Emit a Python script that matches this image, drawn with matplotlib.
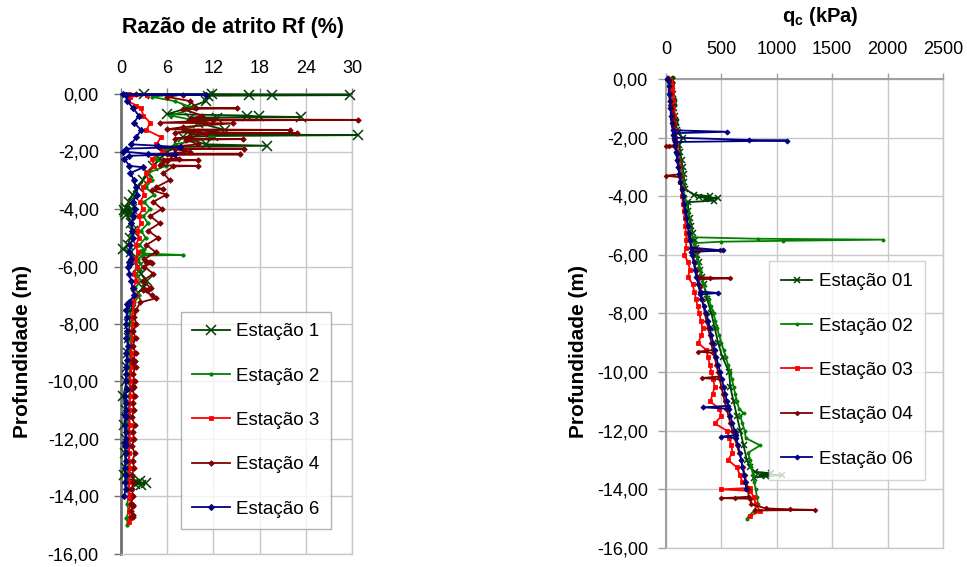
import matplotlib
matplotlib.use("Agg")
import matplotlib.pyplot as plt
from matplotlib.ticker import FuncFormatter

plt.rcParams['font.family'] = ['Liberation Sans', 'DejaVu Sans']
plt.rcParams['mathtext.fontset'] = 'custom'
plt.rcParams['mathtext.rm'] = 'Liberation Sans'
plt.rcParams['mathtext.bf'] = 'Liberation Sans:bold'

# ---------------- data ----------------
labels_rf = ["Estação 1", "Estação 2", "Estação 3", "Estação 4", "Estação 6"]
labels_qc = ["Estação 01", "Estação 02", "Estação 03", "Estação 04", "Estação 06"]

rf_ticks = [0, 6, 12, 18, 24, 30]
qc_ticks = [0, 500, 1000, 1500, 2000, 2500]
depth_ticks = [0, -2, -4, -6, -8, -10, -12, -14, -16]

# Estação 1
d1 = [0.00, -0.01, -0.02, -0.03, -0.04, -0.06, -0.25, -0.50, -0.70, -0.75, -0.78, -0.80, -0.82, -0.85,
      -1.00, -1.25, -1.40, -1.43, -1.46, -1.50, -1.75, -1.80, -1.83, -2.00, -2.25, -2.50, -2.75, -3.00,
      -3.25, -3.50, -3.75, -3.95, -4.00, -4.03, -4.06, -4.10, -4.15, -4.20, -4.50, -4.75, -5.00, -5.25,
      -5.40, -5.50, -5.75, -6.00, -6.25, -6.50, -6.75, -7.00, -7.50, -8.00, -8.50, -9.00, -9.50, -10.00,
      -10.50, -11.00, -11.50, -12.00, -12.50, -13.00, -13.25, -13.40, -13.45, -13.50, -13.52, -13.55, -13.60]
rf1 = [3.0, 11.8, 16.6, 19.6, 29.7, 11.3, 11.0, 8.5, 6.0, 16.3, 17.9, 23.4, 9.0, 12.5,
       10.0, 13.5, 9.0, 30.8, 12.0, 8.0, 11.0, 18.9, 7.5, 6.0, 5.0, 4.2, 3.5, 2.8,
       2.2, 1.5, 1.0, 0.6, 1.4, 0.4, 1.2, 0.5, 1.5, 0.7, 1.3, 1.6, 1.2, 0.9,
       0.3, 1.3, 1.8, 2.2, 2.6, 3.4, 2.8, 1.9, 1.3, 1.1, 1.0, 0.9, 0.8, 0.7,
       0.3, 0.6, 0.4, 0.6, 0.5, 0.6, 0.4, 0.8, 2.5, 1.2, 3.2, 1.8, 2.6]
qc1 = [40, 45, 50, 50, 55, 50, 55, 60, 60, 65, 65, 70, 70, 70,
       75, 80, 85, 85, 90, 90, 100, 110, 105, 150, 120, 130, 140, 150,
       160, 165, 175, 250, 400, 300, 470, 350, 430, 200, 200, 215, 230, 240,
       210, 260, 270, 280, 295, 310, 325, 340, 370, 410, 440, 470, 510, 570,
       580, 610, 640, 670, 700, 730, 760, 800, 950, 850, 1045, 900, 790]

# Estação 2
d2 = [0.00, -0.02, -0.10, -0.25, -0.50, -0.75, -1.00, -1.25, -1.50, -1.75, -2.00, -2.25, -2.50, -2.75,
      -3.00, -3.25, -3.50, -3.75, -4.00, -4.25, -4.50, -4.75, -5.00, -5.25, -5.40, -5.45, -5.48, -5.52,
      -5.55, -5.60, -5.62, -5.75, -6.00, -6.25, -6.50, -6.75, -7.00, -7.25, -7.50, -7.75, -8.00, -8.25,
      -8.50, -8.75, -9.00, -9.25, -9.50, -9.75, -10.00, -10.25, -10.50, -10.75, -11.00, -11.25, -11.40,
      -11.50, -11.75, -12.00, -12.25, -12.50, -12.75, -13.00, -13.25, -13.50, -13.75, -14.00, -14.25,
      -14.50, -14.75, -14.90, -15.00]
rf2 = [0.5, 6.5, 4.0, 7.0, 9.5, 6.5, 11.0, 8.0, 12.0, 7.0, 5.5, 4.5, 5.8, 3.5,
       4.0, 3.2, 4.3, 3.0, 3.8, 2.9, 3.5, 2.6, 3.2, 2.4, 3.0, 2.5, 2.8, 2.4,
       3.0, 8.0, 2.7, 2.2, 2.8, 2.0, 2.6, 1.8, 2.4, 1.7, 0.5, 1.6, 1.3, 1.5,
       1.1, 1.4, 1.0, 1.3, 1.0, 1.2, 0.9, 1.3, 1.0, 1.2, 0.9, 1.1, 0.8,
       1.2, 0.9, 1.1, 0.8, 1.2, 0.9, 1.0, 0.8, 1.1, 0.9, 1.0, 0.8,
       1.0, 0.7, 0.9, 0.8]
qc2 = [20, 30, 35, 40, 45, 50, 55, 60, 70, 80, 90, 100, 110, 120,
       130, 140, 150, 160, 170, 185, 195, 205, 220, 230, 240, 830, 1960, 1055,
       500, 250, 255, 260, 270, 290, 305, 320, 340, 360, 385, 405, 430, 445,
       460, 480, 500, 520, 540, 560, 580, 595, 610, 625, 640, 660, 700,
       670, 690, 710, 720, 850, 740, 760, 770, 785, 795, 810, 820,
       830, 790, 750, 730]

# Estação 3
d3 = [0.00, -0.02, -0.10, -0.25, -0.40, -0.50, -0.75, -1.00, -1.25, -1.50, -1.75, -2.00, -2.25, -2.50,
      -2.75, -3.00, -3.25, -3.50, -3.75, -4.00, -4.25, -4.50, -4.75, -5.00, -5.25, -5.50, -5.75, -6.00,
      -6.25, -6.50, -6.75, -7.00, -7.25, -7.50, -7.75, -8.00, -8.25, -8.50, -8.75, -9.00, -9.25, -9.50,
      -9.75, -10.00, -10.25, -10.50, -10.75, -11.00, -11.25, -11.50, -11.75, -12.00, -12.25, -12.50,
      -12.75, -13.00, -13.25, -13.50, -13.75, -13.95, -14.00, -14.05, -14.25, -14.50, -14.75, -14.90]
rf3 = [1.0, 3.4, 1.2, 0.9, 2.0, 2.6, 2.9, 3.8, 3.3, 5.2, 4.6, 5.5, 4.0, 4.3,
       3.2, 3.6, 2.8, 3.0, 2.5, 2.8, 2.3, 2.6, 2.1, 2.4, 1.9, 2.2, 1.8, 2.1,
       1.7, 2.0, 1.6, 1.9, 1.5, 1.7, 1.4, 1.6, 1.3, 1.5, 1.2, 1.4, 1.2, 1.4,
       1.1, 1.3, 1.1, 1.3, 1.0, 1.2, 1.0, 1.2, 1.0, 1.2, 0.9, 1.1,
       1.0, 1.2, 0.9, 1.1, 1.0, 1.2, 1.4, 1.1, 1.3, 1.0, 1.2, 1.1]
qc3 = [20, 40, 45, 50, 55, 55, 60, 65, 70, 75, 80, 85, 90, 100,
       110, 115, 125, 130, 140, 145, 155, 160, 170, 175, 180, 185, 180, 165,
       200, 215, 200, 240, 255, 270, 285, 300, 315, 330, 320, 290, 365, 380,
       395, 410, 425, 440, 420, 400, 480, 500, 440, 550, 570, 590,
       600, 560, 640, 665, 690, 757, 500, 760, 790, 810, 850, 760]

# Estação 4
d4 = [0.00, -0.02, -0.10, -0.25, -0.48, -0.50, -0.52, -0.75, -0.88, -0.90,
      -0.92, -1.00, -1.02, -1.15, -1.23, -1.25, -1.27, -1.34, -1.36, -1.38,
      -1.50, -1.55, -1.57, -1.59, -1.75, -1.88, -1.90, -1.92, -2.00, -2.08,
      -2.10, -2.12, -2.25, -2.28, -2.30, -2.32, -2.48, -2.50, -2.52, -2.75,
      -3.00, -3.25, -3.30, -3.35, -3.50, -3.75, -4.00, -4.25, -4.50, -4.75,
      -5.00, -5.25, -5.50, -5.75, -5.83, -5.85, -5.88, -6.00, -6.25, -6.50,
      -6.75, -6.78, -6.80, -6.83, -7.00, -7.10, -7.25, -7.50, -7.75, -8.00,
      -8.25, -8.50, -8.75, -9.00, -9.25, -9.30, -9.35, -9.50, -9.75, -10.00,
      -10.15, -10.20, -10.25, -10.50, -10.75, -11.00, -11.25, -11.50, -11.75, -12.00,
      -12.25, -12.50, -12.75, -13.00, -13.25, -13.50, -13.75, -14.00, -14.25, -14.28,
      -14.30, -14.32, -14.50, -14.65, -14.68, -14.70, -14.72]
rf4 = [2.0, 8.0, 6.0, 9.0, 9.8, 15.0, 8.0, 10.5, 9.0, 30.8,
       12.0, 5.0, 14.5, 8.0, 6.0, 22.0, 10.0, 7.0, 22.8, 11.0,
       9.0, 7.0, 15.8, 8.5, 10.0, 5.0, 16.0, 7.0, 9.0, 6.0,
       15.4, 6.5, 7.5, 5.5, 10.0, 6.0, 5.0, 10.0, 6.8, 5.5,
       6.3, 4.5, 5.5, 4.0, 5.9, 4.2, 5.3, 3.8, 5.0, 3.5,
       4.8, 3.3, 4.5, 3.0, 3.8, 3.2, 4.0, 3.0, 4.2, 2.8,
       3.9, 3.0, 3.5, 2.9, 4.0, 4.6, 2.5, 2.0, 1.7, 2.0,
       1.6, 1.9, 1.5, 1.9, 1.6, 1.8, 1.5, 1.9, 1.5, 1.8,
       1.5, 1.7, 1.4, 1.8, 1.5, 1.7, 1.4, 1.8, 1.5, 1.7,
       1.4, 1.8, 1.5, 1.7, 1.4, 1.6, 1.4, 1.6, 1.3, 1.5,
       1.4, 1.6, 1.3, 1.5, 1.4, 1.6, 1.3]
qc4 = [20, 25, 30, 30, 35, 35, 35, 40, 40, 45,
       45, 45, 45, 50, 50, 50, 55, 55, 55, 55,
       60, 60, 60, 65, 65, 70, 70, 70, 75, 75,
       80, 80, 80, 30, 0, 85, 90, 90, 95, 100,
       110, 120, 0, 125, 130, 140, 150, 160, 175, 185,
       200, 210, 220, 230, 300, 487, 240, 245, 255, 270,
       285, 400, 577, 290, 300, 305, 315, 325, 340, 350,
       365, 380, 395, 410, 420, 290, 425, 440, 455, 470,
       480, 325, 485, 500, 515, 530, 545, 565, 580, 600,
       620, 640, 660, 680, 695, 710, 725, 740, 745, 620,
       500, 760, 770, 900, 1120, 1343, 800]

# Estação 6
d6 = [0.00, -0.02, -0.05, -0.25, -0.50, -0.75, -1.00, -1.25, -1.50, -1.75, -1.80, -1.85, -1.90, -2.00,
      -2.08, -2.10, -2.15, -2.25, -2.50, -2.55, -2.75, -3.00, -3.25, -3.50, -3.75, -4.00, -4.25, -4.50,
      -4.75, -5.00, -5.25, -5.50, -5.75, -5.85, -5.90, -6.00, -6.25, -6.50, -6.75, -7.00, -7.25, -7.30,
      -7.35, -7.50, -7.75, -8.00, -8.25, -8.50, -8.75, -9.00, -9.25, -9.50, -9.75, -10.00, -10.25,
      -10.50, -10.75, -11.00, -11.15, -11.20, -11.25, -11.50, -11.75, -12.00, -12.15, -12.20, -12.25,
      -12.50, -12.75, -13.00, -13.25, -13.50, -13.75, -14.00]
rf6 = [0.2, 11.0, 0.6, 0.8, 1.6, 2.3, 1.7, 2.6, 2.0, 1.3, 4.8, 7.6, 0.6, 0.2,
       3.5, 7.0, 1.0, 0.4, 1.1, 2.9, 1.2, 1.7, 1.9, 2.1, 1.5, 1.8, 1.6, 1.3,
       1.4, 1.6, 1.2, 1.1, 1.3, 1.0, 1.2, 0.9, 1.1, 1.3, 1.5, 1.7, 1.0, 0.8,
       0.9, 0.7, 0.8, 0.6, 0.8, 0.7, 0.9, 0.7, 0.8, 0.6, 0.7, 0.6, 0.8,
       0.5, 0.7, 0.6, 0.5, 0.7, 0.6, 0.5, 0.7, 0.6, 0.5, 0.6, 0.5,
       0.7, 0.6, 0.5, 0.6, 0.5, 0.6, 0.4]
qc6 = [10, 15, 20, 25, 25, 35, 40, 45, 50, 60, 550, 70, 65, 70,
       750, 1090, 80, 85, 90, 95, 100, 110, 120, 130, 145, 155, 165, 175,
       185, 195, 205, 215, 225, 516, 230, 235, 250, 260, 275, 290, 305, 470,
       310, 320, 340, 365, 380, 395, 410, 425, 440, 455, 470, 490, 505,
       520, 535, 550, 560, 335, 565, 580, 600, 620, 630, 500, 635,
       650, 665, 680, 690, 705, 715, 725]

depths = [d1, d2, d3, d4, d6]
rf_series = [rf1, rf2, rf3, rf4, rf6]
qc_series = [qc1, qc2, qc3, qc4, qc6]

# ---------------- styling ----------------
colors = ['#004000', '#008000', '#ff0000', '#800000', '#000080']
markers = ['x', 'o', 's', 'D', 'D']
ms_left = [7, 2.4, 3.4, 2.8, 3.2]
ms_right = [4.5, 2.2, 2.8, 2.4, 2.6]

W, H = 967, 567
fig = plt.figure(figsize=(W / 100, H / 100), dpi=100)


def fx(px):
    return px / W


def fy(py):
    return 1 - py / H


ax1 = fig.add_axes([fx(121), fy(554), (352 - 121) / W, (554 - 94) / H])
ax2 = fig.add_axes([fx(666), fy(548), (943 - 666) / W, (548 - 79) / H])

fmt = FuncFormatter(lambda v, p: f"{v:.2f}".replace('.', ','))

for ax, series, labels, ms, xlim, xt in [
        (ax1, rf_series, labels_rf, ms_left, (0, 30), rf_ticks),
        (ax2, qc_series, labels_qc, ms_right, (0, 2500), qc_ticks)]:
    for i in range(5):
        ax.plot(series[i], depths[i], color=colors[i], marker=markers[i], ms=ms[i],
                mew=1.1 if markers[i] == 'x' else 0.6, lw=1.3, label=labels[i],
                clip_on=False, zorder=3 + i)
    ax.set_xlim(*xlim)
    ax.set_ylim(-16, 0)
    ax.set_xticks(xt)
    ax.set_yticks(depth_ticks)
    ax.yaxis.set_major_formatter(fmt)
    ax.xaxis.tick_top()
    ax.grid(True, color='#c8c8c8', lw=1.0, zorder=0)
    ax.set_axisbelow(True)
    for s in ['right', 'bottom']:
        ax.spines[s].set_color('#c8c8c8')
        ax.spines[s].set_linewidth(1.0)

ax1.spines['left'].set_color('#707070')
ax1.spines['left'].set_linewidth(2.0)
ax1.spines['top'].set_color('#808080')
ax1.spines['top'].set_linewidth(1.5)
ax2.spines['left'].set_color('#a0a0a0')
ax2.spines['left'].set_linewidth(1.5)
ax2.spines['top'].set_color('#a0a0a0')
ax2.spines['top'].set_linewidth(1.5)

ax1.tick_params(axis='y', direction='out', length=5, width=1, color='#707070', pad=11, labelsize=13)
ax1.tick_params(axis='x', direction='out', length=4, width=1, color='#808080', pad=8, labelsize=13)
ax2.tick_params(axis='y', direction='out', length=6, width=1, color='#a0a0a0', pad=7, labelsize=13)
ax2.tick_params(axis='x', direction='out', length=4, width=1, color='#a0a0a0', pad=11, labelsize=13)

# titles & axis labels
fig.text(fx(233), fy(27), "Razão de atrito Rf (%)", ha='center', va='center',
         fontsize=15.5, fontweight='bold')
fig.text(fx(820), fy(16), r"$\mathbf{q}_{\mathbf{c}}$ (kPa)", ha='center', va='center',
         fontsize=14.5, fontweight='bold')
fig.text(fx(23), fy(352), "Profundidade (m)", rotation=90, ha='center', va='center',
         fontsize=15, fontweight='bold')
fig.text(fx(579), fy(352), "Profundidade (m)", rotation=90, ha='center', va='center',
         fontsize=15, fontweight='bold')

# legends
leg1 = ax1.legend(loc='upper left', bbox_to_anchor=(fx(181), fy(312)), bbox_transform=fig.transFigure,
                  fontsize=13.5, frameon=True, fancybox=False, edgecolor='#a0a0a0',
                  handlelength=2.0, handletextpad=0.35, labelspacing=1.45, borderpad=0.6,
                  borderaxespad=0, markerscale=1.0)
leg1.get_frame().set_linewidth(1.0)
leg1.set_zorder(20)
leg2 = ax2.legend(loc='upper left', bbox_to_anchor=(fx(769), fy(261)), bbox_transform=fig.transFigure,
                  fontsize=13.5, frameon=True, fancybox=False, edgecolor='#c8c8c8',
                  handlelength=1.65, handletextpad=0.35, labelspacing=1.45, borderpad=0.65,
                  borderaxespad=0)
leg2.get_frame().set_linewidth(1.0)
leg2.set_zorder(20)

fig.savefig("out.png", dpi=100)
